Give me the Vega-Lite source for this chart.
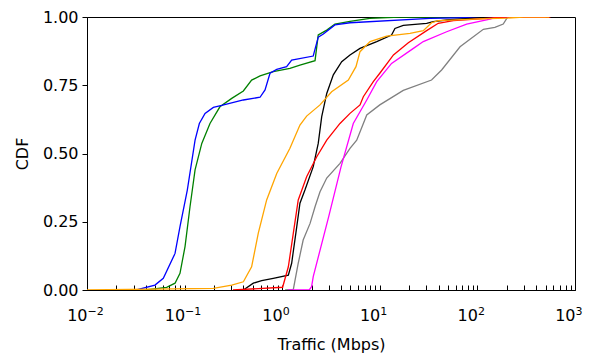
{
  "$schema": "https://vega.github.io/schema/vega-lite/v6.json",
  "width": 488,
  "height": 273,
  "autosize": {"type": "none"},
  "padding": {"left": 87, "top": 17, "right": 14, "bottom": 63},
  "background": "white",
  "config": {
    "font": "DejaVu Sans",
    "view": {"stroke": "black", "strokeWidth": 1},
    "axis": {"domainColor": "black", "tickColor": "black", "labelColor": "black", "titleColor": "black", "labelFontSize": 16, "titleFontSize": 16, "titleFontWeight": "normal", "grid": false, "labelFont": "DejaVu Sans", "titleFont": "DejaVu Sans"}
  },
  "data": {"values": [
    {"s":"green","x":0.04,"y":0},{"s":"green","x":0.0655,"y":0.01},{"s":"green","x":0.0798,"y":0.025},{"s":"green","x":0.0897,"y":0.061},{"s":"green","x":0.101,"y":0.159},{"s":"green","x":0.1136,"y":0.305},{"s":"green","x":0.128,"y":0.44},{"s":"green","x":0.15,"y":0.537},{"s":"green","x":0.182,"y":0.61},{"s":"green","x":0.23,"y":0.671},{"s":"green","x":0.304,"y":0.702},{"s":"green","x":0.40,"y":0.729},{"s":"green","x":0.486,"y":0.769},{"s":"green","x":0.593,"y":0.784},{"s":"green","x":0.81,"y":0.80},{"s":"green","x":1.2,"y":0.812},{"s":"green","x":1.52,"y":0.824},{"s":"green","x":2.17,"y":0.84},{"s":"green","x":2.34,"y":0.934},{"s":"green","x":2.86,"y":0.952},{"s":"green","x":3.47,"y":0.974},{"s":"green","x":4.95,"y":0.984},{"s":"green","x":7.9,"y":0.995},{"s":"green","x":16,"y":1},{"s":"green","x":400,"y":1},
    {"s":"blue","x":0.032,"y":0},{"s":"blue","x":0.0497,"y":0.018},{"s":"blue","x":0.0605,"y":0.043},{"s":"blue","x":0.0798,"y":0.134},{"s":"blue","x":0.0897,"y":0.232},{"s":"blue","x":0.1066,"y":0.366},{"s":"blue","x":0.128,"y":0.549},{"s":"blue","x":0.1416,"y":0.61},{"s":"blue","x":0.162,"y":0.647},{"s":"blue","x":0.197,"y":0.669},{"s":"blue","x":0.24,"y":0.676},{"s":"blue","x":0.40,"y":0.696},{"s":"blue","x":0.593,"y":0.706},{"s":"blue","x":0.667,"y":0.733},{"s":"blue","x":0.75,"y":0.794},{"s":"blue","x":0.879,"y":0.808},{"s":"blue","x":1.11,"y":0.818},{"s":"blue","x":1.25,"y":0.842},{"s":"blue","x":2.08,"y":0.857},{"s":"blue","x":2.34,"y":0.926},{"s":"blue","x":2.64,"y":0.938},{"s":"blue","x":3.47,"y":0.971},{"s":"blue","x":4.95,"y":0.979},{"s":"blue","x":32.7,"y":0.995},{"s":"blue","x":170,"y":1},{"s":"blue","x":400,"y":1},
    {"s":"black","x":0.40,"y":0},{"s":"black","x":0.506,"y":0.025},{"s":"black","x":0.616,"y":0.034},{"s":"black","x":0.81,"y":0.043},{"s":"black","x":1.156,"y":0.054},{"s":"black","x":1.25,"y":0.098},{"s":"black","x":1.41,"y":0.232},{"s":"black","x":1.52,"y":0.318},{"s":"black","x":1.71,"y":0.366},{"s":"black","x":2.08,"y":0.452},{"s":"black","x":2.34,"y":0.537},{"s":"black","x":2.54,"y":0.635},{"s":"black","x":2.86,"y":0.72},{"s":"black","x":3.34,"y":0.788},{"s":"black","x":4.07,"y":0.836},{"s":"black","x":4.95,"y":0.861},{"s":"black","x":6.27,"y":0.885},{"s":"black","x":9.3,"y":0.91},{"s":"black","x":13.2,"y":0.934},{"s":"black","x":14.3,"y":0.958},{"s":"black","x":17.4,"y":0.969},{"s":"black","x":30.2,"y":0.977},{"s":"black","x":35.3,"y":0.983},{"s":"black","x":48.4,"y":0.989},{"s":"black","x":135,"y":1},{"s":"black","x":400,"y":1},
    {"s":"gray","x":1.07,"y":0},{"s":"gray","x":1.3,"y":0.002},{"s":"gray","x":1.46,"y":0.098},{"s":"gray","x":1.64,"y":0.183},{"s":"gray","x":1.93,"y":0.244},{"s":"gray","x":2.17,"y":0.305},{"s":"gray","x":2.44,"y":0.36},{"s":"gray","x":2.86,"y":0.41},{"s":"gray","x":3.91,"y":0.464},{"s":"gray","x":4.95,"y":0.519},{"s":"gray","x":5.8,"y":0.549},{"s":"gray","x":7.35,"y":0.641},{"s":"gray","x":10,"y":0.678},{"s":"gray","x":17.4,"y":0.731},{"s":"gray","x":33.9,"y":0.769},{"s":"gray","x":43,"y":0.806},{"s":"gray","x":66.4,"y":0.891},{"s":"gray","x":115,"y":0.955},{"s":"gray","x":151,"y":0.962},{"s":"gray","x":184,"y":0.974},{"s":"gray","x":200,"y":0.995},{"s":"gray","x":206,"y":1},{"s":"gray","x":500,"y":1},
    {"s":"magenta","x":1.15,"y":0},{"s":"magenta","x":1.9,"y":0.001},{"s":"magenta","x":2.0,"y":0.012},{"s":"magenta","x":2.08,"y":0.049},{"s":"magenta","x":3.0,"y":0.27},{"s":"magenta","x":4.0,"y":0.45},{"s":"magenta","x":5.35,"y":0.61},{"s":"magenta","x":7.35,"y":0.696},{"s":"magenta","x":9.3,"y":0.763},{"s":"magenta","x":13.2,"y":0.83},{"s":"magenta","x":22.1,"y":0.885},{"s":"magenta","x":27.9,"y":0.91},{"s":"magenta","x":48.4,"y":0.946},{"s":"magenta","x":77.6,"y":0.974},{"s":"magenta","x":134.6,"y":0.992},{"s":"magenta","x":160,"y":1},{"s":"magenta","x":500,"y":1},
    {"s":"red","x":0.313,"y":0},{"s":"red","x":1.01,"y":0.01},{"s":"red","x":1.156,"y":0.085},{"s":"red","x":1.3,"y":0.208},{"s":"red","x":1.46,"y":0.33},{"s":"red","x":1.78,"y":0.415},{"s":"red","x":2.26,"y":0.488},{"s":"red","x":2.86,"y":0.549},{"s":"red","x":3.91,"y":0.61},{"s":"red","x":4.95,"y":0.647},{"s":"red","x":6.27,"y":0.678},{"s":"red","x":6.78,"y":0.708},{"s":"red","x":8.58,"y":0.763},{"s":"red","x":10,"y":0.794},{"s":"red","x":13.8,"y":0.861},{"s":"red","x":19.6,"y":0.906},{"s":"red","x":30.2,"y":0.95},{"s":"red","x":39.7,"y":0.977},{"s":"red","x":56.6,"y":0.987},{"s":"red","x":106,"y":0.993},{"s":"red","x":190,"y":1},{"s":"red","x":560,"y":1},
    {"s":"orange","x":0.01,"y":0},{"s":"orange","x":0.197,"y":0.006},{"s":"orange","x":0.304,"y":0.018},{"s":"orange","x":0.40,"y":0.03},{"s":"orange","x":0.486,"y":0.085},{"s":"orange","x":0.569,"y":0.208},{"s":"orange","x":0.693,"y":0.33},{"s":"orange","x":0.879,"y":0.427},{"s":"orange","x":1.2,"y":0.519},{"s":"orange","x":1.52,"y":0.604},{"s":"orange","x":1.78,"y":0.637},{"s":"orange","x":2.44,"y":0.678},{"s":"orange","x":3.21,"y":0.726},{"s":"orange","x":4.76,"y":0.769},{"s":"orange","x":5.7,"y":0.818},{"s":"orange","x":6.27,"y":0.873},{"s":"orange","x":7.94,"y":0.91},{"s":"orange","x":11.75,"y":0.93},{"s":"orange","x":20.4,"y":0.94},{"s":"orange","x":27.9,"y":0.95},{"s":"orange","x":33.9,"y":0.979},{"s":"orange","x":39.7,"y":0.987},{"s":"orange","x":106,"y":0.993},{"s":"orange","x":200,"y":0.996},{"s":"orange","x":295,"y":1},{"s":"orange","x":545,"y":1}
  ]},
  "layer": [
    {
      "mark": {"type": "line", "strokeWidth": 1.3, "clip": true},
      "encoding": {
        "x": {"field": "x", "type": "quantitative",
          "scale": {"type": "log", "domain": [0.01, 1000], "nice": false},
          "axis": {"orient": "bottom", "title": "Traffic (Mbps)", "tickSize": -5, "labelPadding": 22, "titlePadding": 13,
            "values": [0.01,0.02,0.03,0.04,0.05,0.06,0.07,0.08,0.09,0.1,0.2,0.3,0.4,0.5,0.6,0.7,0.8,0.9,1,2,3,4,5,6,7,8,9,10,20,30,40,50,60,70,80,90,100,200,300,400,500,600,700,800,900,1000],
            "labelExpr": "(datum.value == 0.01 || datum.value == 0.1 || datum.value == 1 || datum.value == 10 || datum.value == 100 || datum.value == 1000) ? '10' : ''",
            "labelAlign": "right", "labelDx": 3.5,
            "labelOverlap": false, "labelFlush": false}},
        "y": {"field": "y", "type": "quantitative",
          "scale": {"domain": [0, 1], "nice": false},
          "axis": {"title": "CDF", "values": [0, 0.25, 0.5, 0.75, 1], "format": ".2f", "tickSize": 5, "labelPadding": 4, "titlePadding": 12}},
        "color": {"field": "s", "type": "nominal", "legend": null,
          "scale": {"domain": ["green","blue","black","gray","magenta","red","orange"], "range": ["#008000","#0000ff","#000000","#808080","#ff00ff","#ff0000","#ffa500"]}},
        "order": {"field": "x", "type": "quantitative"}
      }
    },
    {
      "mark": {"type": "line", "strokeOpacity": 0, "clip": true},
      "encoding": {
        "x": {"field": "x", "type": "quantitative",
          "scale": {"type": "log", "domain": [0.01, 1000], "nice": false},
          "axis": {"orient": "bottom", "title": null, "ticks": false, "tickSize": 0, "domain": false, "labelPadding": 15,
            "values": [0.01,0.1,1,10,100,1000],
            "labelExpr": "datum.value == 0.01 ? '−2' : datum.value == 0.1 ? '−1' : datum.value == 1 ? '0' : datum.value == 10 ? '1' : datum.value == 100 ? '2' : '3'",
            "labelFontSize": 11, "labelAlign": "left", "labelDx": 4,
            "labelOverlap": false, "labelFlush": false}},
        "y": {"field": "y", "type": "quantitative", "scale": {"domain": [0, 1], "nice": false}},
        "detail": {"field": "s"}
      }
    }
  ],
  "resolve": {"axis": {"x": "independent"}}
}
